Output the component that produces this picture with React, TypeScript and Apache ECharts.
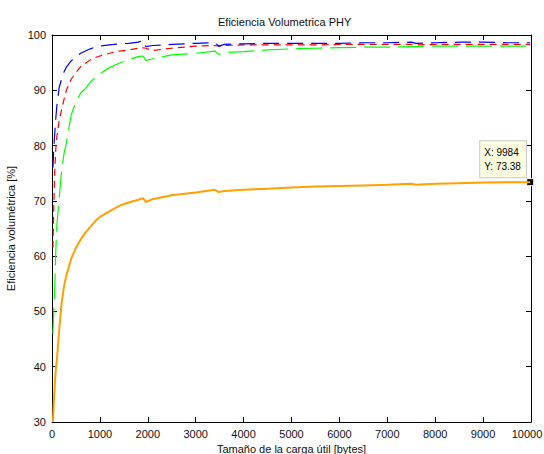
import React, { useEffect, useRef } from "react";
import * as echarts from "echarts";

const bytes = [20, 40, 60, 80, 100, 150, 200, 250, 300, 400, 500, 600, 700, 800, 900, 1000, 1200, 1400, 1600, 1800, 1900, 1960, 2100, 2500, 3000, 3400, 3480, 3600, 4000, 4500, 5000, 5500, 6000, 6500, 7000, 7500, 7600, 8000, 8500, 9000, 9500, 9984];

const blueVals = [76, 80, 82.5, 85, 87, 90.5, 92, 93.3, 94.2, 95.3, 96.1, 96.7, 97.1, 97.5, 97.8, 98.0, 98.2, 98.4, 98.5, 98.7, 99.0, 97.9, 98.1, 98.3, 98.5, 98.6, 98.0, 98.3, 98.4, 98.5, 98.5, 98.5, 98.5, 98.6, 98.6, 98.7, 98.5, 98.6, 98.7, 98.7, 98.6, 98.6];

const redVals = [61.5, 70, 76, 79.5, 81.5, 84.5, 86.5, 88.3, 90, 92, 93.2, 94.3, 94.9, 95.5, 95.9, 96.2, 96.7, 97.1, 97.3, 97.6, 97.7, 97.6, 97.2, 97.6, 98.0, 98.1, 98.0, 98.1, 98.2, 98.2, 98.2, 98.2, 98.3, 98.3, 98.3, 98.3, 98.2, 98.3, 98.3, 98.3, 98.3, 98.3];

const greenVals = [46, 51, 55, 61, 65.5, 70.5, 75.5, 78.5, 80.5, 85.5, 88, 89.5, 90.3, 91.5, 92.3, 93.0, 94.1, 94.9, 95.5, 96.1, 96.2, 95.4, 95.7, 96.4, 96.7, 97.1, 96.5, 96.8, 97.0, 97.3, 97.5, 97.6, 97.7, 97.8, 97.8, 97.9, 97.9, 98.0, 98.0, 98.0, 98.0, 98.0];

const orangeVals = [30, 34, 37, 39.5, 41, 46.5, 51.5, 54.5, 56.5, 59.5, 61.5, 63, 64.3, 65.3, 66.3, 67.1, 68.1, 69.1, 69.7, 70.2, 70.5, 69.8, 70.3, 71.0, 71.5, 72.0, 71.6, 71.8, 72.0, 72.2, 72.4, 72.6, 72.7, 72.8, 72.9, 73.1, 72.9, 73.1, 73.2, 73.3, 73.35, 73.38];

const xTicks = { min: 0, max: 10000, interval: 1000 };
const yTicks = { min: 30, max: 100, interval: 10 };

const FONT = "'Liberation Sans', Arial, sans-serif";

function pairs(vals: number[]) {
  return bytes.map((b, i) => [b, vals[i]]);
}

export default function App() {
  const ref = useRef<HTMLDivElement>(null);
  useEffect(() => {
    if (!ref.current) return;
    const chart = echarts.init(ref.current, null, { renderer: "svg" });
    const lastX = bytes[bytes.length - 1];
    const lastY = orangeVals[orangeVals.length - 1];
    const axisCommon = {
      axisLine: { show: true, onZero: false, lineStyle: { color: "#000", width: 1 } },
      axisTick: { show: true, inside: true, length: 5, lineStyle: { color: "#000" } },
      splitLine: { show: false },
    };
    const labelStyle = { color: "#111", fontSize: 11, fontFamily: FONT };
    chart.setOption({
      animation: false,
      backgroundColor: "#fff",
      title: {
        text: "Eficiencia Volumetrica PHY",
        left: 213,
        top: 11,
        textStyle: { fontSize: 11, fontWeight: "normal", color: "#111", fontFamily: FONT },
      },
      grid: { left: 52, right: 13, top: 35, bottom: 32, containLabel: false, outerBoundsMode: "none" },
      xAxis: [
        {
          type: "value",
          position: "bottom",
          ...xTicks,
          ...axisCommon,
          axisLabel: {
            ...labelStyle,
            margin: 6,
            showMaxLabel: true,
            showMinLabel: true,
            formatter: (v: number) => (v === xTicks.max ? `{m|${v}}` : String(v)),
            rich: { m: { ...labelStyle, padding: [0, 8, 0, 0] } },
          },
          name: "Tamaño de la carga útil [bytes]",
          nameLocation: "middle",
          nameGap: 19,
          nameTextStyle: { ...labelStyle },
        },
        {
          type: "value",
          position: "top",
          ...xTicks,
          ...axisCommon,
          axisLabel: { show: false },
        },
      ],
      yAxis: [
        {
          type: "value",
          position: "left",
          ...yTicks,
          ...axisCommon,
          axisLabel: { ...labelStyle, margin: 6 },
          name: "Eficiencia volumétrica [%]",
          nameLocation: "middle",
          nameGap: 30,
          nameTextStyle: { ...labelStyle },
        },
        {
          type: "value",
          position: "right",
          ...yTicks,
          ...axisCommon,
          axisLabel: { show: false },
        },
      ],
      series: [
        {
          type: "line",
          data: pairs(greenVals),
          showSymbol: false,
          lineStyle: { color: "#00ff00", width: 1.2, type: [26, 8] },
          z: 2,
        },
        {
          type: "line",
          data: pairs(redVals),
          showSymbol: false,
          lineStyle: { color: "#ff0000", width: 1.2, type: [7, 5] },
          z: 3,
        },
        {
          type: "line",
          data: pairs(blueVals),
          showSymbol: false,
          lineStyle: { color: "#0000ff", width: 1.2, type: [16, 8] },
          z: 4,
        },
        {
          type: "line",
          data: pairs(orangeVals),
          showSymbol: false,
          lineStyle: { color: "#ffa000", width: 2 },
          z: 5,
          markPoint: {
            symbol: "rect",
            symbolSize: 7,
            itemStyle: { color: "#000", borderColor: "#ffffe0", borderWidth: 1 },
            label: {
              show: true,
              formatter: `X: ${lastX}\nY: ${lastY.toFixed(2)}`,
              position: [-46, -37],
              backgroundColor: "#ffffe1",
              borderColor: "#c8c8c8",
              borderWidth: 1,
              padding: [4, 5, 4, 4],
              fontSize: 10,
              lineHeight: 14,
              color: "#000",
              fontFamily: FONT,
              align: "left",
              verticalAlign: "top",
            },
            data: [{ coord: [lastX, lastY] }],
          },
        },
      ],
    });
    return () => chart.dispose();
  }, []);
  return (
    <div
      ref={ref}
      style={{ position: "fixed", left: 0, top: 0, width: 544, height: 454, background: "#fff" }}
    />
  );
}
